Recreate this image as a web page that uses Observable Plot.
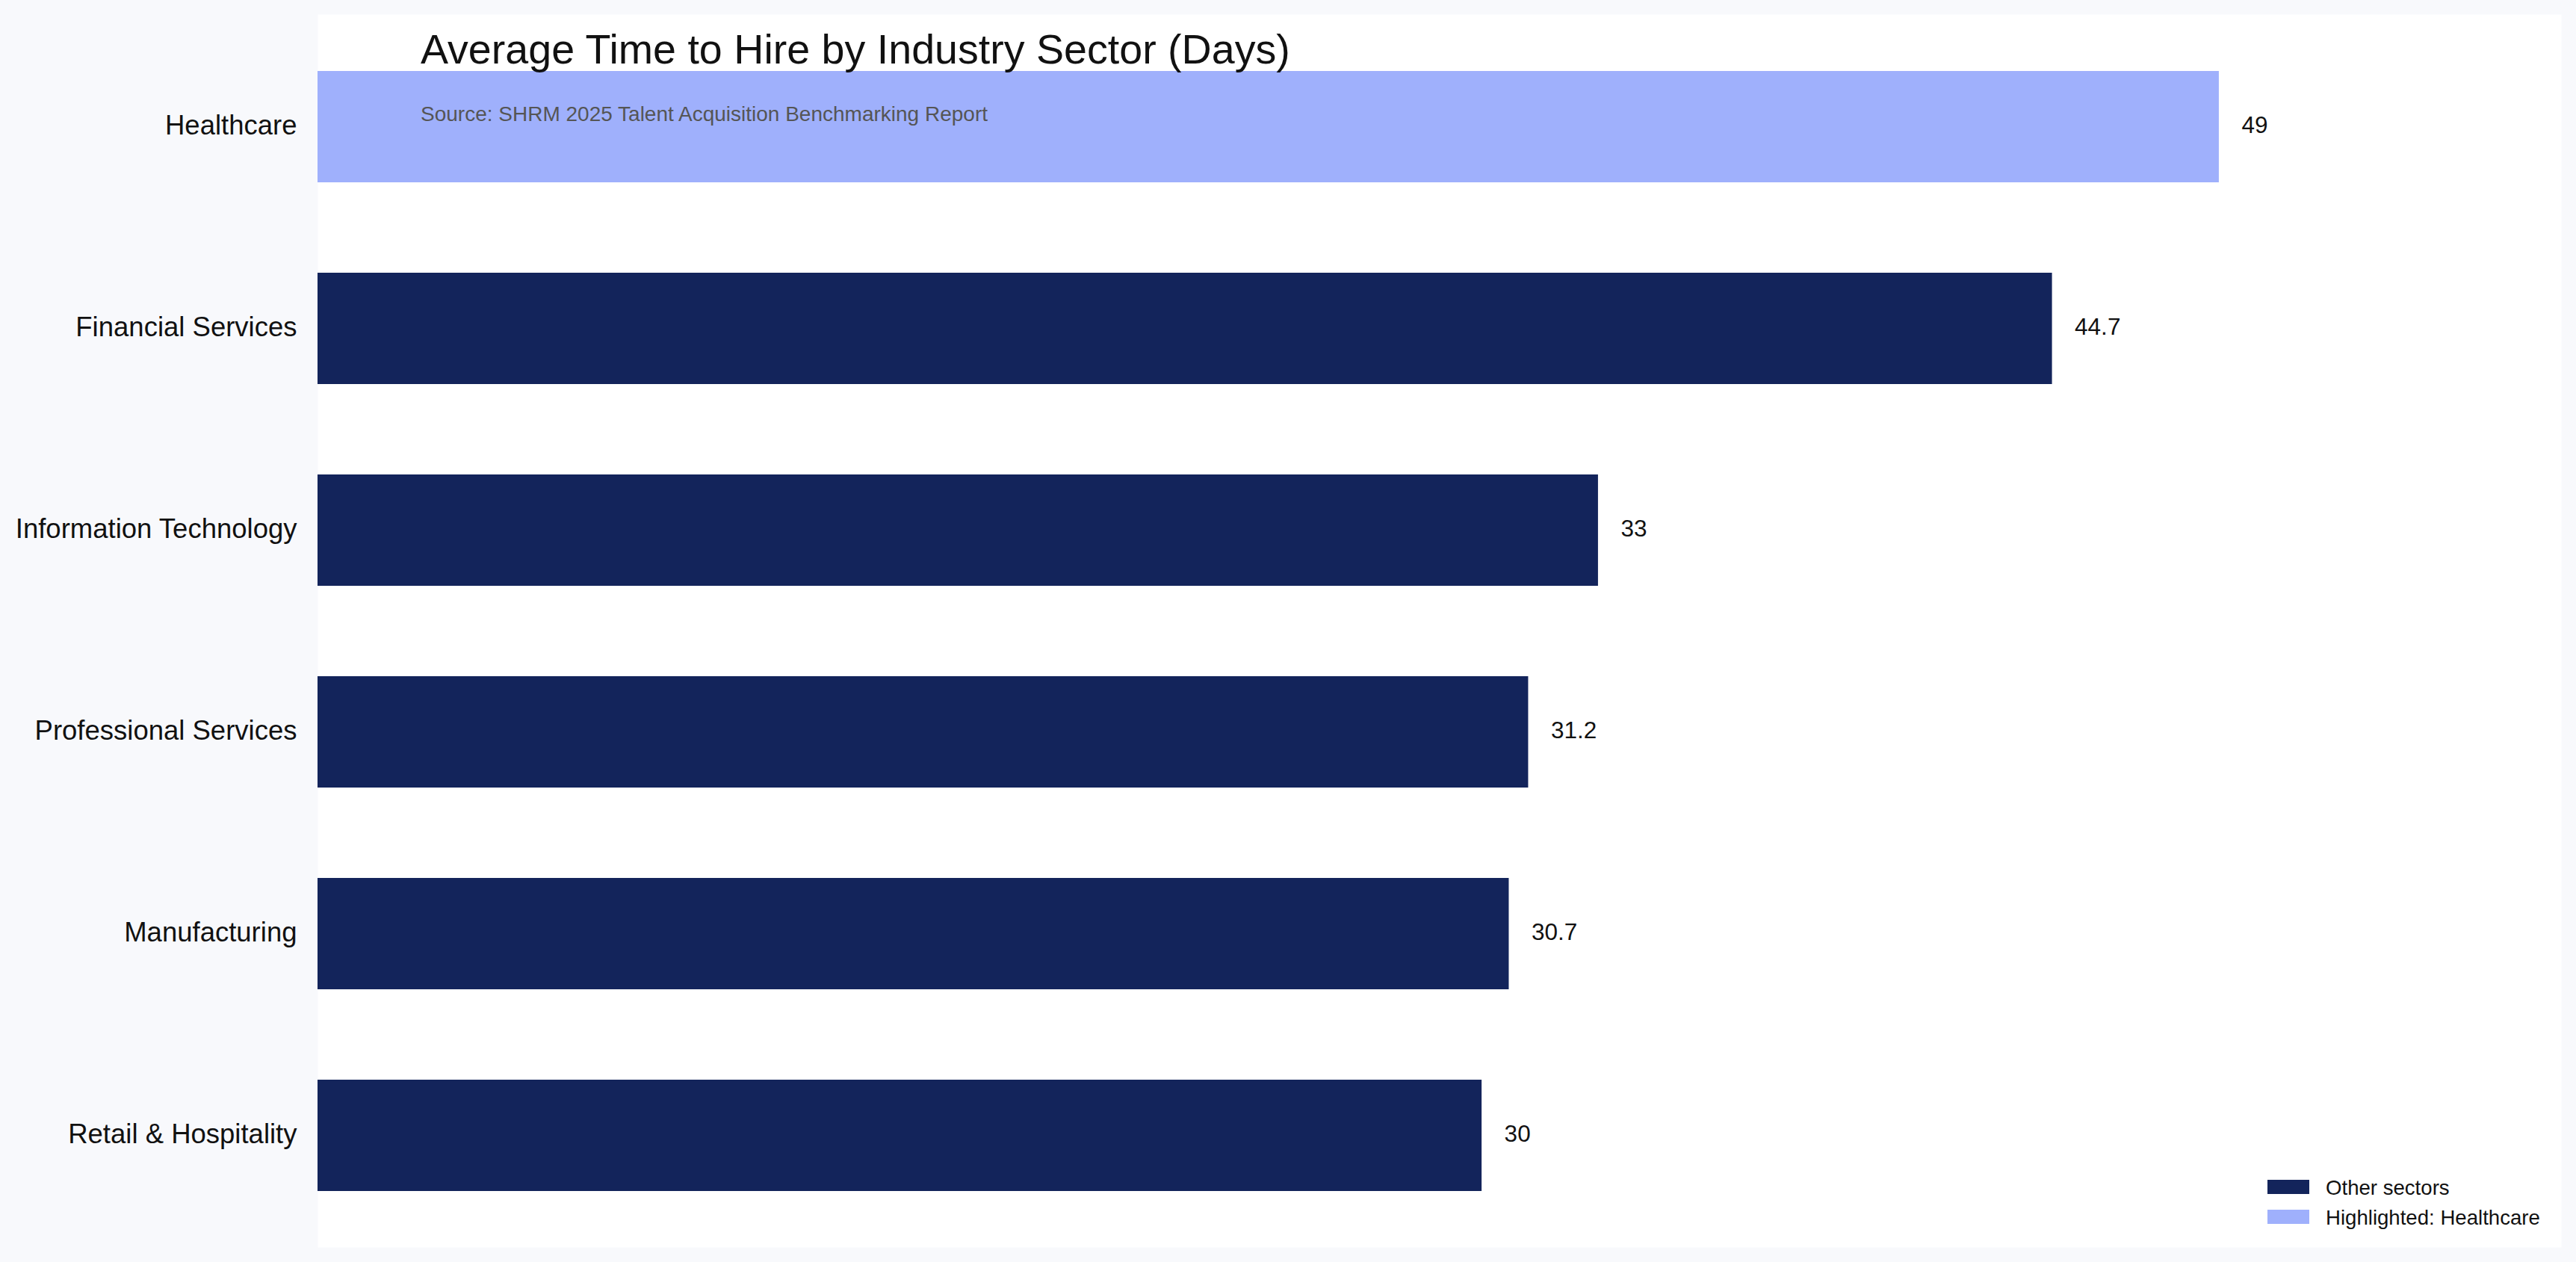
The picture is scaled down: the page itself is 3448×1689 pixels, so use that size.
<!DOCTYPE html>
<html>
<head>
<meta charset="utf-8">
<script src="https://cdn.jsdelivr.net/npm/d3@7"></script>
<script src="https://cdn.jsdelivr.net/npm/@observablehq/plot@0.6"></script>
<style>
  html, body { margin: 0; padding: 0; background: #f8f9fc; overflow: hidden; }
  #wrap { position: relative; width: 3448px; height: 1689px; font-family: "Liberation Sans", Arial, Helvetica, sans-serif; }
  #wrap svg { display: block; }
  .title { position: absolute; left: 563px; top: 39px; font-size: 55.6px; line-height: 55.6px; color: #111; white-space: nowrap; }
  .subtitle { position: absolute; left: 563px; top: 139px; font-size: 28px; line-height: 28px; color: #555; white-space: nowrap; }
  .sw { position: absolute; left: 3035px; width: 56px; height: 19px; }
  .lt { position: absolute; left: 3113px; font-size: 27.6px; line-height: 27.6px; color: #111; white-space: nowrap; }
</style>
</head>
<body>
<div id="wrap"></div>
<script>
const categories = ["Healthcare", "Financial Services", "Information Technology", "Professional Services", "Manufacturing", "Retail & Hospitality"];
const values = [49, 44.7, 33, 31.2, 30.7, 30];
const groups = ["Highlighted: Healthcare", "Other sectors", "Other sectors", "Other sectors", "Other sectors", "Other sectors"];
const legendLabels = ["Other sectors", "Highlighted: Healthcare"];
const legendColors = ["#13245b", "#9fb0fc"];
const titleText = "Average Time to Hire by Industry Sector (Days)";
const subtitleText = "Source: SHRM 2025 Talent Acquisition Benchmarking Report";

const data = categories.map((c, i) => ({category: c, value: values[i], group: groups[i]}));

const chart = Plot.plot({
  width: 3448,
  height: 1689,
  marginLeft: 425,
  marginRight: 20,
  marginTop: 19,
  marginBottom: 20,
  style: {background: "transparent", fontFamily: "'Liberation Sans', Arial, Helvetica, sans-serif", color: "#111"},
  x: {domain: [0, d3.max(values) * 1.18], axis: null},
  y: {domain: categories, paddingInner: 0.45, paddingOuter: 0.28, axis: null},
  color: {domain: legendLabels, range: legendColors},
  marks: [
    Plot.frame({fill: "white", stroke: "none"}),
    Plot.barX(data, {x: "value", y: "category", fill: "group"}),
    Plot.text(data, {x: "value", y: "category", text: d => String(d.value), textAnchor: "start", dx: 30, dy: -2, fontSize: 31.5, fill: "#111"}),
    Plot.axisY({tickSize: 0, tickPadding: 28, dy: -2, fontSize: 36.5, label: null, fill: "#111"})
  ]
});

const wrap = document.getElementById("wrap");
wrap.appendChild(chart);

const t = document.createElement("div");
t.className = "title"; t.textContent = titleText; wrap.appendChild(t);
const s = document.createElement("div");
s.className = "subtitle"; s.textContent = subtitleText; wrap.appendChild(s);

legendLabels.forEach((lab, i) => {
  const sw = document.createElement("div");
  sw.className = "sw";
  sw.style.top = (1579 + i * 40) + "px";
  sw.style.background = legendColors[i];
  wrap.appendChild(sw);
  const lt = document.createElement("div");
  lt.className = "lt";
  lt.style.top = (1576 + i * 40) + "px";
  lt.textContent = lab;
  wrap.appendChild(lt);
});
</script>
</body>
</html>
